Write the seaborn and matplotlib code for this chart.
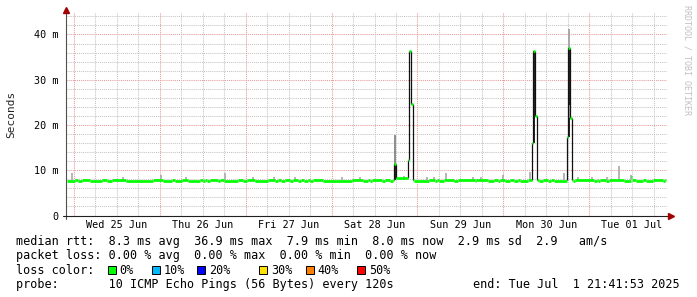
import matplotlib
matplotlib.use("Agg")
import matplotlib.pyplot as plt
from matplotlib.patches import Rectangle
from matplotlib.transforms import offset_copy
import pandas as pd
import seaborn as sns

# ---------------- data (time = hours since Tue 24 Jun 21:41:53) ----------------
span_hours = 168.0
first_midnight_h = 2.302          # Wed 25 Jun 00:00
day_labels = ["Wed 25 Jun", "Thu 26 Jun", "Fri 27 Jun", "Sat 28 Jun",
              "Sun 29 Jun", "Mon 30 Jun", "Tue 01 Jul"]
y_tick_values = [0, 10, 20, 30, 40]
y_tick_labels = ["0", "10 m", "20 m", "30 m", "40 m"]

median_base_ms = 7.9
data_start_h = 0.2
data_end_h = 167.7
# periods where the median differs from the base level
median_change_start = [0.3, 3.4, 6.7, 11.5, 16.8, 27.2, 30.5, 34.2, 38.4, 39.5,
                       42.6, 44.3, 49.6, 52.9, 58.5, 60.2, 62.7, 65.0, 66.7, 68.3,
                       72.0, 83.2, 85.1, 88.5, 90.7,
                       91.79, 92.35, 95.70, 96.07, 96.63,
                       97.2, 103.3, 104.2, 108.4, 114.5, 117.9, 120.7, 122.9, 125.2, 127.1,
                       130.3, 130.6, 131.2,
                       132.2, 134.7, 136.4,
                       140.1, 140.4, 141.0,
                       141.7, 147.6, 148.7, 150.9, 156.0, 158.1, 159.3, 162.1, 166.9]
median_change_end = [2.5, 4.5, 10.1, 12.9, 24.4, 29.7, 32.5, 37.5, 38.9, 40.3,
                     43.1, 48.2, 50.7, 56.6, 59.4, 61.3, 63.6, 65.8, 67.8, 69.2,
                     80.1, 84.6, 85.7, 89.3, 91.6,
                     92.35, 95.70, 96.07, 96.63, 96.96,
                     101.4, 103.9, 105.6, 109.5, 114.8, 119.6, 121.5, 124.3, 126.3, 129.1,
                     130.6, 131.2, 131.7,
                     133.3, 135.5, 140.0,
                     140.4, 141.0, 141.4,
                     142.3, 148.4, 149.3, 151.8, 157.9, 158.4, 161.3, 164.1, 167.5]
median_change_ms = [7.7, 7.7, 7.7, 7.7, 7.7, 7.7, 7.7, 7.7, 7.7, 7.7,
                    7.7, 7.7, 7.7, 7.7, 7.7, 7.7, 7.7, 7.7, 7.7, 7.7,
                    7.7, 7.7, 7.7, 7.7, 7.7,
                    11.3, 8.3, 12.2, 36.3, 24.6,
                    7.7, 7.7, 7.7, 7.7, 7.7, 7.7, 7.7, 7.7, 7.7, 7.7,
                    16.0, 36.3, 21.9,
                    7.7, 7.7, 7.7,
                    17.3, 37.0, 21.6,
                    7.7, 7.7, 7.7, 7.7, 7.7, 8.6, 7.7, 7.7, 7.7]

# light smoke above the median (time, top of spread)
smoke_h = [1.6, 16.0, 26.5, 33.6, 44.5, 52.3, 58.3, 64.2, 77.1, 82.1, 94.5, 101.0,
           102.8, 106.4, 113.8, 116.1, 122.2, 129.7, 139.3, 143.2, 147.0, 151.4,
           154.5, 158.0]
smoke_top_ms = [9.4, 8.5, 8.9, 8.6, 9.4, 8.5, 8.6, 8.5, 8.6, 8.6, 8.8, 8.5,
                8.5, 9.4, 8.5, 8.5, 8.9, 9.6, 9.4, 8.6, 8.5, 8.5,
                10.9, 8.9]
# dense smoke during the latency spikes
spike_smoke_h = [92.0, 91.9, 130.9, 140.7, 140.8, 141.0]
spike_smoke_low = [11.1, 7.9, 16.0, 17.3, 37.0, 21.6]
spike_smoke_high = [17.8, 11.1, 36.3, 37.0, 41.1, 24.4]
spike_smoke_color = ["#8c8c8c", "#202020", "#202020", "#202020", "#a8a8a8", "#a8a8a8"]

legend_rows = [
    "median rtt:  8.3 ms avg  36.9 ms max  7.9 ms min  8.0 ms now  2.9 ms sd  2.9   am/s",
    "packet loss: 0.00 % avg  0.00 % max  0.00 % min  0.00 % now",
    "loss color:",
    "probe:       10 ICMP Echo Pings (56 Bytes) every 120s",
]
end_text = "end: Tue Jul  1 21:41:53 2025"
loss_labels = ["0%", "10%", "20%", "30%", "40%", "50%"]
loss_colors = ["#00ff00", "#00b8ff", "#0000ff", "#ffe000", "#ff8000", "#ff0000"]

# ---------------- build median segments ----------------
changes = sorted(zip(median_change_start, median_change_end, median_change_ms))
segments = []
cursor = data_start_h
for s, e, v in changes:
    if s > cursor:
        segments.append((cursor, s, median_base_ms))
    segments.append((s, e, v))
    cursor = e
if cursor < data_end_h:
    segments.append((cursor, data_end_h, median_base_ms))

rows = []
for i, (s, e, v) in enumerate(segments):
    rows.append({"t": s, "ms": v, "seg": i})
    rows.append({"t": e, "ms": v, "seg": i})
median_df = pd.DataFrame(rows)

# ---------------- figure ----------------
sns.set_theme(style="white")
plt.rcParams["font.family"] = ["DejaVu Sans Mono"]
W, H = 697, 297
fig = plt.figure(figsize=(W / 100, H / 100), dpi=100, facecolor="white")
ax_left, ax_right, ax_top, ax_bottom = 65.8, 666.8, 12.3, 215.5
ax = fig.add_axes([ax_left / W, (H - ax_bottom) / H,
                   (ax_right - ax_left) / W, (ax_bottom - ax_top) / H])
ax.set_facecolor("white")
ax.set_xlim(0, span_hours)
ax.set_ylim(0, 44.9)
for sp in ax.spines.values():
    sp.set_visible(False)

# grid (dotted)
grey = "#c4c4c4"
red = "#e89a9a"
dots = (0, (1, 1))
for v in range(2, 45, 2):
    ax.axhline(v, color=red if v % 10 == 0 else grey, lw=0.75, ls=dots, zorder=0)
h = first_midnight_h
k = 0
while h < span_hours:
    ax.axvline(h, color=red if k % 4 == 0 else grey, lw=0.75, ls=dots, zorder=0)
    h += 6
    k += 1

# smoke
ax.vlines(smoke_h, median_base_ms, smoke_top_ms, color="#b4b4b4", lw=1.4, zorder=1)
ax.vlines(spike_smoke_h, spike_smoke_low, spike_smoke_high, color=spike_smoke_color,
          lw=1.4, zorder=2)

# step transitions of the median
trans_x, trans_lo, trans_hi = [], [], []
for (s0, e0, v0), (s1, e1, v1) in zip(segments[:-1], segments[1:]):
    if abs(v1 - v0) > 1.0:
        trans_x.append(s1)
        trans_lo.append(min(v0, v1))
        trans_hi.append(max(v0, v1))
ax.vlines(trans_x, trans_lo, trans_hi, color="#111111", lw=0.9, zorder=2)

# median line (horizontal parts, loss colour = 0%)
sns.lineplot(data=median_df, x="t", y="ms", units="seg", estimator=None, sort=False,
             color=loss_colors[0], lw=1.95, solid_capstyle="butt", legend=False,
             ax=ax, zorder=3)

# axes lines and arrows
ax.plot([0, 0], [-0.016, 1.0], transform=ax.transAxes, color="#505050", lw=0.8,
        clip_on=False, zorder=5)
ax.plot([-0.005, 1.006], [0, 0], transform=ax.transAxes, color="#202020", lw=0.8,
        clip_on=False, zorder=5)
ax.plot([0], [1], marker="^", ms=4.2, color="#a00000", mec="#a00000",
        transform=offset_copy(ax.transAxes, fig=fig, x=0, y=2, units="dots"),
        clip_on=False, zorder=6)
ax.plot([1], [0], marker=">", ms=4.2, color="#a00000", mec="#a00000",
        transform=offset_copy(ax.transAxes, fig=fig, x=4.5, y=0, units="dots"),
        clip_on=False, zorder=6)

# ticks
ax.set_yticks(y_tick_values)
ax.set_yticklabels(y_tick_labels)
ax.set_xticks([first_midnight_h + 12 + 24 * i for i in range(len(day_labels))])
ax.set_xticklabels(day_labels)
ax.tick_params(axis="y", length=0, pad=5, labelsize=7.3, colors="black")
ax.tick_params(axis="x", length=0, pad=3.5, labelsize=7.3, colors="black")
ax.set_xlabel("")
ax.set_ylabel("")
fig.text(11 / W, 1 - 114 / H, "Seconds", rotation=90, ha="center", va="center",
         fontsize=8)

# watermark
fig.text(687.5 / W, 1 - 60 / H, "RRDTOOL / TOBI OETIKER", rotation=270,
         ha="center", va="center", fontsize=6, color="#c0c0c0")

# legend lines
row_y = [241, 255.5, 270, 284.3]
for txt, y in zip(legend_rows, row_y):
    fig.text(16 / W, 1 - y / H, txt, fontsize=8.5, ha="left", va="center",
             color="black")
fig.text(680 / W, 1 - row_y[3] / H, end_text, fontsize=8.5, ha="right",
         va="center", color="black")
box_x = [108, 152.4, 197, 259, 305.8, 357]
label_x = [119, 163.6, 209, 270.7, 317.8, 368.9]
for bx, lx, lab, col in zip(box_x, label_x, loss_labels, loss_colors):
    fig.patches.append(Rectangle((bx / W, 1 - (row_y[2] + 4) / H), 8 / W, 8 / H,
                                 transform=fig.transFigure, facecolor=col,
                                 edgecolor="black", lw=0.7))
    fig.text(lx / W, 1 - row_y[2] / H, lab, fontsize=8.5, ha="left", va="center",
             color="black")

fig.savefig("out.png", dpi=100, facecolor="white")
